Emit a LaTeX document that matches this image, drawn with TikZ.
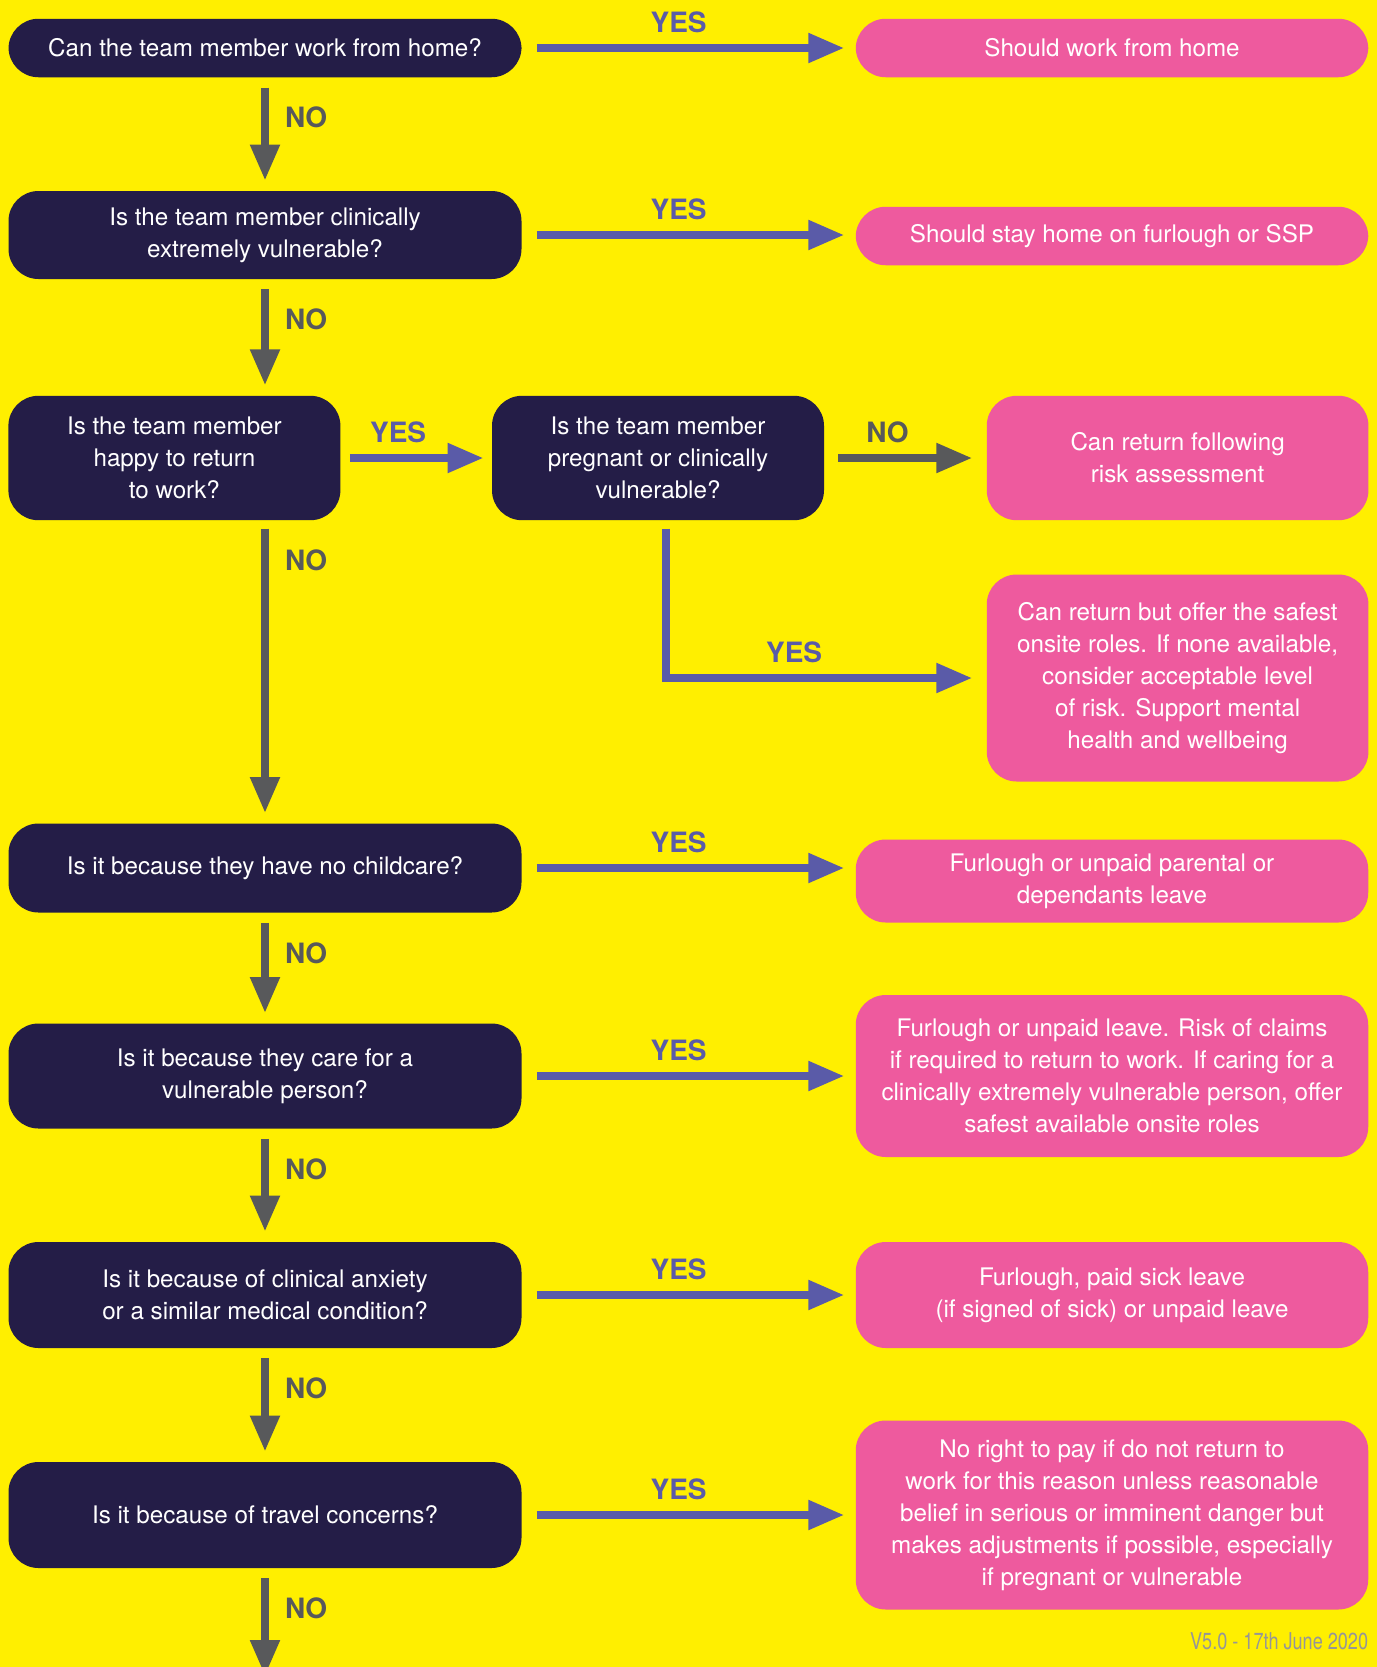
\documentclass[tikz,border=0pt]{standalone}
\usepackage{fontspec}
\setmainfont{TeX Gyre Heros}
\newfontfamily\narrowfont[FakeStretch=0.78]{TeX Gyre Heros}
\usetikzlibrary{arrows.meta}
\definecolor{bgyellow}{RGB}{255,239,0}
\definecolor{qnavy}{RGB}{36,29,71}
\definecolor{apink}{RGB}{238,90,158}
\definecolor{yesblue}{RGB}{90,91,168}
\definecolor{nogrey}{RGB}{88,89,91}
\definecolor{vgrey}{RGB}{150,150,150}
\newcommand{\boxfont}{\fontsize{12.1}{16}\selectfont}
\tikzset{question/.style={fill=qnavy, text=white, rounded corners=15pt,
  align=center, inner sep=0pt, minimum width=256.5pt, font=\boxfont}}
\tikzset{answer/.style={fill=apink, text=white, rounded corners=15pt,
  align=center, inner sep=0pt, minimum width=256.25pt, font=\boxfont}}
\tikzset{yesarrow/.style={draw=yesblue, line width=4pt,
  -{Triangle[length=18pt,width=14pt]}, shorten <=7.5pt, shorten >=5.5pt}}
\tikzset{noarrow/.style={draw=nogrey, line width=4pt,
  -{Triangle[length=18pt,width=14pt]}, shorten <=5pt, shorten >=5pt}}
\tikzset{yeslabel/.style={text=yesblue, font=\bfseries\fontsize{14}{14}\selectfont,
  inner sep=0pt, above=5.8pt}}
\tikzset{nolabel/.style={text=nogrey, font=\bfseries\fontsize{14}{14}\selectfont,
  inner sep=0pt, anchor=west, at start, xshift=8pt, yshift=-20pt}}

\begin{document}
\begin{tikzpicture}[x=0.5pt, y=-0.5pt]

\useasboundingbox (0,0) rectangle (1377,1667);
\fill[bgyellow] (0,0) rectangle (1377,1667);
\clip (0,0) rectangle (1377,1667);

% questions
\node[question, minimum height=29.25pt] (qhome) at (265,48) {Can the team member work from home?};
\node[question, minimum height=44pt] (qvuln) at (265,235) {Is the team member clinically\\extremely vulnerable?};
\node[question, minimum width=166pt, minimum height=62.2pt] (qhappy) at (174.4,458) {Is the team member\\happy to return\\to work?};
\node[question, minimum width=166pt, minimum height=62.2pt] (qpreg) at (658,458) {Is the team member\\pregnant or clinically\\vulnerable?};
\node[question, minimum height=44.5pt] (qchild) at (265,868) {Is it because they have no childcare?};
\node[question, minimum height=52.5pt] (qcare) at (265,1076) {Is it because they care for a\\vulnerable person?};
\node[question, minimum height=53pt] (qanx) at (265,1295) {Is it because of clinical anxiety\\or a similar medical condition?};
\node[question, minimum height=53pt] (qtravel) at (265,1515) {Is it because of travel concerns?};

% answers
\node[answer, minimum height=29.25pt] (rhome) at (1112,48) {Should work from home};
\node[answer, minimum height=29.25pt] (rstay) at (1112,236) {Should stay home on furlough or SSP};
\node[answer, minimum width=190.85pt, minimum height=62.2pt] (rrisk) at (1177.6,458) {Can return following\\risk assessment};
\node[answer, minimum width=190.85pt, minimum height=103.5pt] (rsafe) at (1177.6,678) {Can return but offer the safest\\onsite roles. If none available,\\consider acceptable level\\of risk. Support mental\\health and wellbeing};
\node[answer, minimum height=41.5pt] (rchild) at (1112,881) {Furlough or unpaid parental or\\dependants leave};
\node[answer, minimum height=81pt] (rcare) at (1112,1076) {Furlough or unpaid leave. Risk of claims\\if required to return to work. If caring for a\\clinically extremely vulnerable person, offer\\safest available onsite roles};
\node[answer, minimum height=53pt] (ranx) at (1112,1295) {Furlough, paid sick leave\\(if signed of sick) or unpaid leave};
\node[answer, minimum height=94.5pt] (rtravel) at (1112,1515) {No right to pay if do not return to\\work for this reason unless reasonable\\belief in serious or imminent danger but\\makes adjustments if possible, especially\\if pregnant or vulnerable};

\node[anchor=base east, inner sep=0pt, text=vgrey, font=\narrowfont\fontsize{11.6}{12}\selectfont] (version) at (1368.5,1649.5) {V5.0 - 17th June 2020};
\coordinate (tail) at (265,1676);

% yes arrows
\draw[yesarrow] (qhome) -- (rhome) node[yeslabel, pos=.47] {YES};
\draw[yesarrow] (qvuln.east) -- (qvuln.east -| rstay.west) node[yeslabel, pos=.47] {YES};
\draw[yesarrow, shorten <=4.5pt, shorten >=4pt] (qhappy) -- (qpreg) node[yeslabel, pos=.38] {YES};
\draw[yesarrow, shorten <=4pt, shorten >=7pt] ([xshift=4pt]qpreg.south) |- (rsafe.west) node[yeslabel, pos=.7] {YES};
\draw[yesarrow] (qchild.east) -- (qchild.east -| rchild.west) node[yeslabel, pos=.47] {YES};
\draw[yesarrow] (qcare) -- (rcare) node[yeslabel, pos=.47] {YES};
\draw[yesarrow] (qanx) -- (ranx) node[yeslabel, pos=.47] {YES};
\draw[yesarrow] (qtravel) -- (rtravel) node[yeslabel, pos=.47] {YES};

% no arrows
\draw[noarrow, shorten <=7pt, shorten >=7pt] (qpreg) -- (rrisk) node[yeslabel, text=nogrey, pos=.39] {NO};
\draw[noarrow] (qhome) -- (qvuln) node[nolabel] {NO};
\draw[noarrow] (qvuln.south) -- (qvuln.south |- qhappy.north) node[nolabel] {NO};
\draw[noarrow, shorten <=4pt] (qchild.north |- qhappy.south) -- (qchild) node[nolabel] {NO};
\draw[noarrow] (qchild) -- (qcare) node[nolabel] {NO};
\draw[noarrow] (qcare) -- (qanx) node[nolabel] {NO};
\draw[noarrow] (qanx) -- (qtravel) node[nolabel] {NO};
\draw[noarrow, shorten >=0pt] (qtravel) -- (tail) node[nolabel] {NO};
\end{tikzpicture}
\end{document}
